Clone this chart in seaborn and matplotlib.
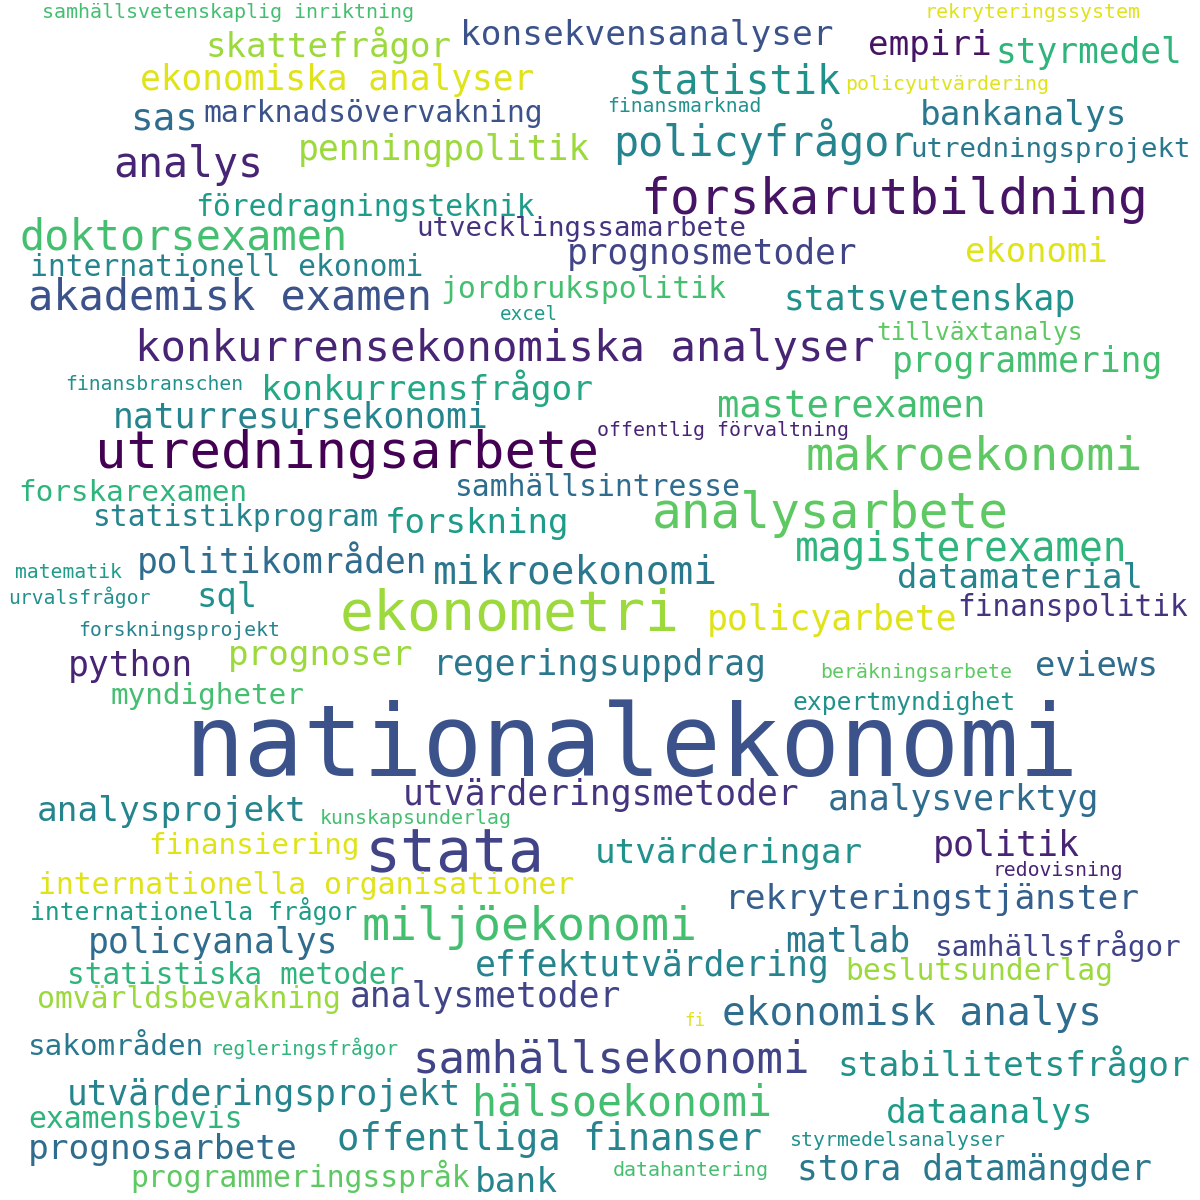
import numpy as np
import matplotlib.pyplot as plt
import seaborn as sns

# word cloud: words, their horizontal extent and vertical centre in the reference (px), viridis shade
words = ["samhällsvetenskaplig inriktning", "rekryteringssystem", "konsekvensanalyser", "skattefrågor", "empiri",
         "styrmedel", "ekonomiska analyser", "statistik", "policyutvärdering", "sas",
         "marknadsövervakning", "finansmarknad", "bankanalys", "policyfrågor", "utredningsprojekt",
         "penningpolitik", "analys", "forskarutbildning", "föredragningsteknik", "doktorsexamen",
         "utvecklingssamarbete", "prognosmetoder", "ekonomi", "internationell ekonomi", "akademisk examen",
         "jordbrukspolitik", "statsvetenskap", "excel", "tillväxtanalys", "konkurrensekonomiska analyser",
         "programmering", "finansbranschen", "konkurrensfrågor", "masterexamen", "naturresursekonomi",
         "offentlig förvaltning", "utredningsarbete", "makroekonomi", "forskarexamen", "samhällsintresse",
         "analysarbete", "statistikprogram", "forskning", "magisterexamen", "matematik",
         "politikområden", "mikroekonomi", "datamaterial", "urvalsfrågor", "sql",
         "ekonometri", "finanspolitik", "policyarbete", "forskningsprojekt", "python",
         "prognoser", "regeringsuppdrag", "eviews", "beräkningsarbete", "myndigheter",
         "expertmyndighet", "nationalekonomi", "utvärderingsmetoder", "analysverktyg", "analysprojekt",
         "kunskapsunderlag", "finansiering", "stata", "utvärderingar", "politik",
         "redovisning", "internationella organisationer", "rekryteringstjänster", "internationella frågor", "miljöekonomi",
         "policyanalys", "matlab", "samhällsfrågor", "statistiska metoder", "effektutvärdering",
         "beslutsunderlag", "omvärldsbevakning", "analysmetoder", "ekonomisk analys", "fi",
         "sakområden", "regleringsfrågor", "samhällsekonomi", "stabilitetsfrågor", "utvärderingsprojekt",
         "hälsoekonomi", "examensbevis", "dataanalys", "prognosarbete", "offentliga finanser",
         "styrmedelsanalyser", "stora datamängder", "programmeringsspråk", "bank", "datahantering"]
x_left = [42, 925, 460, 205, 868, 995, 140, 628, 845, 130,
          203, 607, 920, 613, 910, 298, 113, 640, 195, 20,
          416, 567, 965, 30, 28, 440, 783, 500, 876, 135,
          892, 65, 261, 717, 113, 597, 95, 805, 18, 455,
          652, 93, 385, 795, 15, 137, 433, 897, 8, 196,
          340, 957, 707, 78, 68, 228, 433, 1035, 820, 110,
          793, 185, 403, 828, 37, 320, 148, 365, 595, 933,
          992, 38, 725, 30, 362, 88, 785, 935, 67, 475,
          845, 37, 350, 722, 684, 28, 210, 412, 837, 67,
          472, 28, 886, 28, 337, 790, 797, 130, 475, 613]
x_right = [415, 1140, 833, 452, 992, 1182, 535, 842, 1048, 198,
           544, 762, 1127, 915, 1190, 590, 263, 1148, 535, 348,
           745, 858, 1108, 423, 433, 726, 1075, 558, 1083, 872,
           1163, 243, 593, 986, 488, 849, 598, 1142, 248, 740,
           1010, 378, 570, 1128, 122, 428, 718, 1143, 150, 257,
           680, 1188, 958, 280, 193, 414, 767, 1158, 1012, 305,
           1015, 1080, 800, 1100, 306, 511, 360, 545, 863, 1080,
           1123, 575, 1140, 357, 698, 338, 910, 1182, 405, 830,
           1113, 342, 621, 1101, 705, 205, 398, 810, 1190, 462,
           772, 243, 1093, 298, 762, 1005, 1152, 470, 558, 770]
y_mid = [12, 12, 35, 45, 45, 53, 80, 83, 84, 120,
         113, 107, 115, 142, 150, 150, 165, 200, 207, 237,
         229, 254, 253, 267, 298, 289, 300, 314, 333, 349,
         362, 385, 388, 407, 417, 430, 454, 457, 493, 487,
         514, 517, 524, 550, 572, 561, 573, 579, 597, 598,
         615, 608, 620, 630, 666, 656, 665, 667, 672, 696,
         703, 748, 795, 800, 812, 818, 846, 855, 853, 846,
         870, 886, 899, 911, 927, 943, 942, 946, 976, 966,
         971, 1000, 997, 1014, 1021, 1047, 1048, 1060, 1064, 1095,
         1103, 1120, 1114, 1150, 1140, 1140, 1170, 1176, 1183, 1171]
shade = [0.7, 0.95, 0.25, 0.85, 0.05, 0.65, 0.95, 0.5, 0.95, 0.35,
         0.25, 0.5, 0.4, 0.45, 0.4, 0.85, 0.1, 0.05, 0.55, 0.7,
         0.15, 0.2, 0.95, 0.45, 0.25, 0.7, 0.5, 0.55, 0.75, 0.1,
         0.7, 0.5, 0.6, 0.7, 0.45, 0.1, 0.0, 0.75, 0.65, 0.35,
         0.75, 0.45, 0.55, 0.65, 0.55, 0.35, 0.4, 0.45, 0.5, 0.5,
         0.85, 0.15, 0.95, 0.45, 0.1, 0.85, 0.4, 0.35, 0.75, 0.7,
         0.5, 0.25, 0.15, 0.35, 0.45, 0.7, 0.95, 0.2, 0.5, 0.1,
         0.1, 0.95, 0.3, 0.55, 0.7, 0.35, 0.4, 0.2, 0.65, 0.45,
         0.85, 0.85, 0.2, 0.35, 0.95, 0.4, 0.65, 0.2, 0.5, 0.45,
         0.7, 0.65, 0.55, 0.35, 0.45, 0.5, 0.4, 0.75, 0.45, 0.7]

sns.set_theme(style="white")
plt.rcParams['font.family'] = ['DejaVu Sans Mono']
cmap = sns.color_palette("viridis", as_cmap=True)

fig, ax = plt.subplots(figsize=(12, 12), dpi=100)
fig.subplots_adjust(0, 0, 1, 1)
ax.set_xlim(0, 1200)
ax.set_ylim(1200, 0)
ax.axis("off")

for w, xl, xr, y, s in zip(words, x_left, x_right, y_mid, shade):
    em_px = (xr - xl) / (0.602 * len(w))
    ax.text(xl, y, w, fontsize=em_px * 0.72, color=cmap(s), ha="left", va="center")

fig.savefig("out.png", dpi=100, facecolor="white")
